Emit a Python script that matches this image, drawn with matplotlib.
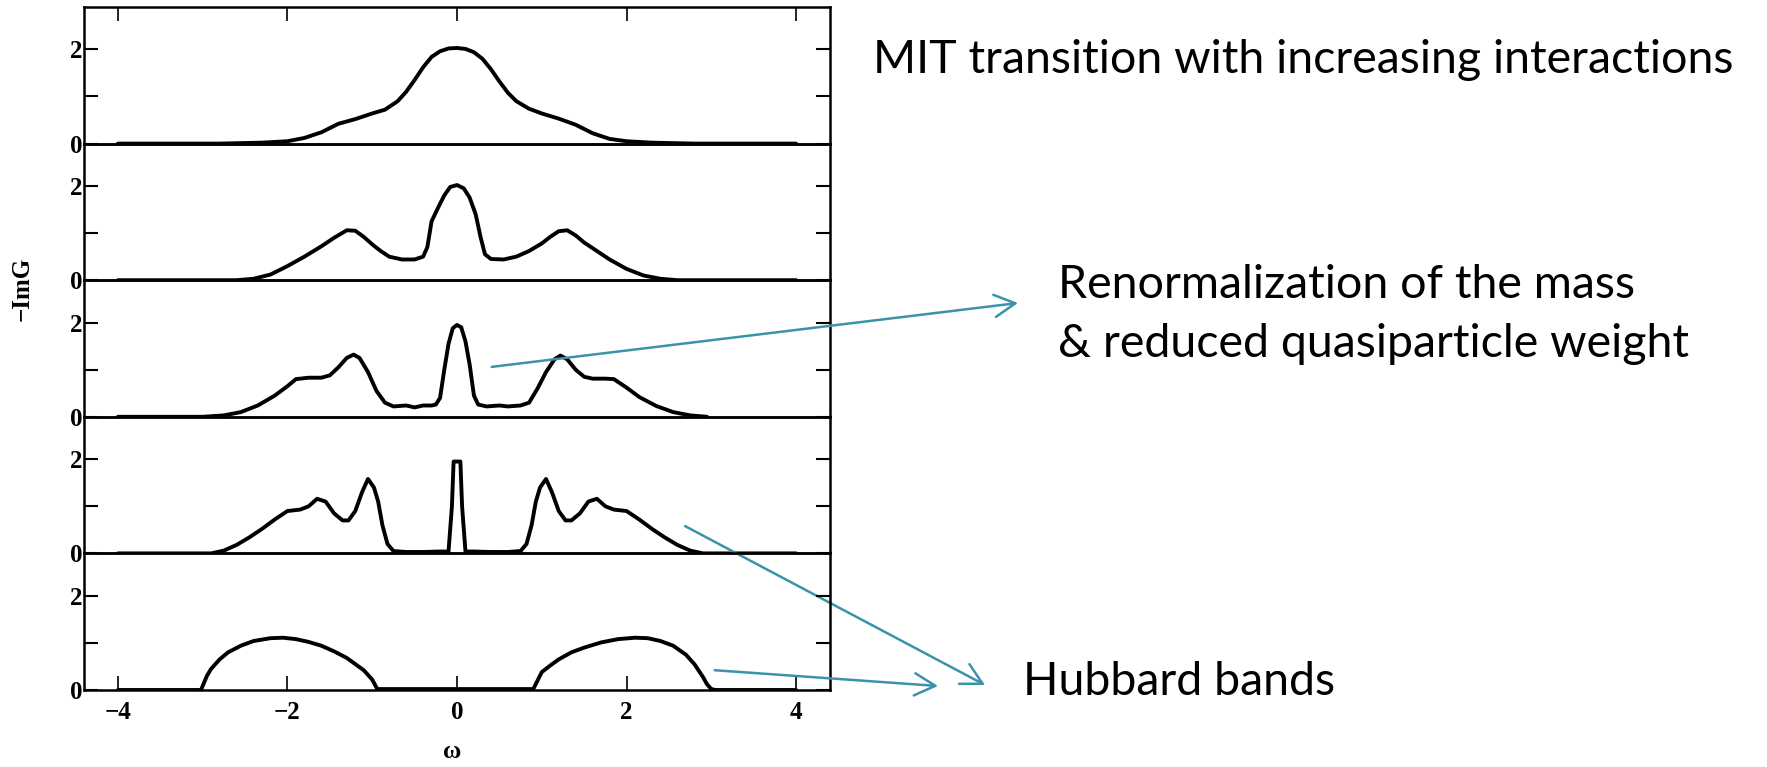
import numpy as np
import matplotlib
matplotlib.use("Agg")
import matplotlib.pyplot as plt

# spectral function -ImG(w) for five interaction strengths
x1 = [-4, -2.8, -2.3, -2.0, -1.8, -1.6, -1.4, -1.2, -1.0, -0.85, -0.7, -0.6, -0.5, -0.4, -0.3, -0.2, -0.1,
      0.0, 0.1, 0.2, 0.3, 0.4, 0.5, 0.6, 0.7, 0.85, 1.0, 1.2, 1.4, 1.6, 1.8, 2.0, 2.3, 2.8, 4]
y1 = [0, 0, 0.02, 0.05, 0.12, 0.24, 0.42, 0.52, 0.64, 0.72, 0.9, 1.1, 1.35, 1.62, 1.84, 1.96, 2.02,
      2.03, 2.01, 1.94, 1.8, 1.58, 1.32, 1.08, 0.9, 0.74, 0.64, 0.53, 0.4, 0.22, 0.1, 0.05, 0.02, 0, 0]

x2 = [-4, -2.6, -2.4, -2.2, -2.0, -1.8, -1.6, -1.45, -1.3, -1.2, -1.1, -1.0, -0.9, -0.8, -0.65, -0.5,
      -0.4, -0.35, -0.3, -0.22, -0.15, -0.08, 0.0, 0.08, 0.15, 0.22, 0.28, 0.33, 0.4, 0.55, 0.7, 0.85,
      1.0, 1.1, 1.2, 1.3, 1.4, 1.5, 1.65, 1.8, 2.0, 2.2, 2.4, 2.6, 4]
y2 = [0, 0, 0.03, 0.12, 0.3, 0.5, 0.72, 0.9, 1.06, 1.05, 0.92, 0.76, 0.62, 0.5, 0.44, 0.44,
      0.5, 0.7, 1.25, 1.55, 1.8, 1.98, 2.02, 1.95, 1.75, 1.4, 0.9, 0.55, 0.45, 0.44, 0.5, 0.62,
      0.78, 0.92, 1.04, 1.06, 0.95, 0.8, 0.62, 0.44, 0.24, 0.1, 0.03, 0, 0]

x3 = [-4, -3.0, -2.75, -2.55, -2.35, -2.15, -2.0, -1.9, -1.75, -1.6, -1.5, -1.4, -1.3, -1.22, -1.15,
      -1.05, -0.95, -0.85, -0.75, -0.6, -0.5, -0.4, -0.3, -0.25, -0.2, -0.15, -0.1, -0.05, 0.0, 0.05,
      0.1, 0.15, 0.2, 0.25, 0.35, 0.5, 0.6, 0.75, 0.85, 0.95, 1.05, 1.15, 1.22, 1.3, 1.4, 1.5, 1.6,
      1.75, 1.85, 2.0, 2.15, 2.35, 2.55, 2.75, 2.95]
y3 = [0, 0, 0.03, 0.1, 0.24, 0.45, 0.65, 0.8, 0.83, 0.83, 0.88, 1.05, 1.25, 1.32, 1.25,
      0.95, 0.55, 0.3, 0.22, 0.24, 0.2, 0.24, 0.24, 0.26, 0.4, 1.0, 1.55, 1.88, 1.95, 1.9,
      1.6, 1.1, 0.45, 0.26, 0.22, 0.24, 0.22, 0.24, 0.3, 0.6, 0.95, 1.22, 1.3, 1.22, 1.0, 0.85, 0.81,
      0.81, 0.8, 0.62, 0.42, 0.23, 0.1, 0.03, 0.0]

x4 = [-4, -2.9, -2.75, -2.6, -2.45, -2.3, -2.15, -2.0, -1.85, -1.75, -1.65, -1.55, -1.45, -1.35, -1.28,
      -1.2, -1.12, -1.05, -0.98, -0.93, -0.88, -0.82, -0.75, -0.6, -0.4, -0.2, -0.1, -0.06, -0.04,
      0.04, 0.06, 0.1, 0.2, 0.4, 0.6, 0.75, 0.82, 0.88, 0.93, 0.98, 1.05, 1.12, 1.2, 1.28, 1.35,
      1.45, 1.55, 1.65, 1.75, 1.85, 2.0, 2.15, 2.3, 2.45, 2.6, 2.75, 2.9, 4]
y4 = [0, 0, 0.06, 0.18, 0.34, 0.52, 0.72, 0.9, 0.93, 1.0, 1.16, 1.1, 0.85, 0.7, 0.7,
      0.9, 1.3, 1.58, 1.4, 1.1, 0.6, 0.2, 0.05, 0.03, 0.03, 0.04, 0.04, 1.0, 1.95,
      1.95, 1.0, 0.04, 0.04, 0.03, 0.03, 0.05, 0.2, 0.6, 1.1, 1.4, 1.58, 1.3, 0.9, 0.7, 0.7,
      0.85, 1.1, 1.16, 1.0, 0.93, 0.9, 0.72, 0.52, 0.34, 0.18, 0.06, 0, 0]

x5 = [-4, -3.02, -2.95, -2.9, -2.8, -2.7, -2.55, -2.4, -2.2, -2.05, -1.9, -1.75, -1.6, -1.45, -1.3,
      -1.2, -1.1, -1.0, -0.94, 0.9, 0.95, 1.0, 1.1, 1.2, 1.35, 1.5, 1.7, 1.9, 2.1, 2.25, 2.4, 2.55,
      2.7, 2.8, 2.9, 2.95, 3.0, 3.05, 4]
y5 = [0, 0, 0.3, 0.45, 0.65, 0.8, 0.94, 1.04, 1.1, 1.11, 1.08, 1.02, 0.94, 0.82, 0.68,
      0.55, 0.42, 0.22, 0.02, 0.02, 0.2, 0.38, 0.52, 0.65, 0.8, 0.9, 1.01, 1.08, 1.11, 1.1, 1.04, 0.94,
      0.75, 0.55, 0.28, 0.12, 0.02, 0, 0]

curves = [(x1, y1), (x2, y2), (x3, y3), (x4, y4), (x5, y5)]
xticks = [-4, -2, 0, 2, 4]

teal = "#3a93a9"
serif = dict(family="Liberation Serif", weight="bold", size=18)
W, H = 1767, 767

fig = plt.figure(figsize=(W / 100, H / 100), dpi=100)

left, right = 84 / W, 830 / W
top, bottom = 1 - 7 / H, 1 - 690 / H
ph = (top - bottom) / 5

axes = []
for i, (xs, ys) in enumerate(curves):
    ax = fig.add_axes([left, top - (i + 1) * ph, right - left, ph])
    ax.patch.set_alpha(0)
    ax.plot(xs, ys, color="black", lw=2.8, solid_joinstyle="round", solid_capstyle="round")
    ax.set_xlim(-4.4, 4.4)
    ax.set_ylim(0, 2.9)
    ax.set_yticks([0, 1, 2])
    ax.set_yticklabels(["0", "", "2"], fontdict=serif)
    ax.tick_params(axis="y", direction="in", left=True, right=True, length=10, width=1.5, pad=1)
    ax.set_xticks(xticks)
    ax.tick_params(axis="x", direction="in", length=10, width=1.2, pad=8,
                   bottom=(i == 4), top=(i == 0), labelbottom=(i == 4))
    if i == 4:
        ax.set_xticklabels(["\u22124", "\u22122", "0", "2", "4"], fontdict=serif)
    for s in ax.spines.values():
        s.set_linewidth(1.8)
    axes.append(ax)

fig.text(22 / W, 1 - 289 / H, "\u2212ImG", rotation=90, ha="center", va="center", **serif)
fig.text(452 / W, 1 - 752 / H, "\u03c9", ha="center", va="center", **serif)

# slide annotations
tfont = dict(family="Lato", size=33.5, color="black")
fig.text(873 / W, 1 - 73 / H, "MIT transition with increasing interactions", va="baseline", **tfont)
fig.text(1058 / W, 1 - 298 / H, "Renormalization of the mass", va="baseline", **tfont)
fig.text(1058 / W, 1 - 357 / H, "& reduced quasiparticle weight", va="baseline", **tfont)
fig.text(1023 / W, 1 - 695 / H, "Hubbard bands", va="baseline", **tfont)

aprops = dict(arrowstyle="->,head_length=0.75,head_width=0.4", color=teal, lw=1.8,
              shrinkA=0, shrinkB=0, mutation_scale=20)
arrows = [(2, (0.41, 1.06), (1018, 303)),
          (3, (2.69, 0.58), (985, 685)),
          (4, (3.04, 0.42), (938, 686))]
for k, tail, head in arrows:
    axes[k].annotate("", xy=(head[0] / W, 1 - head[1] / H), xycoords="figure fraction",
                     xytext=tail, textcoords="data", arrowprops=aprops, annotation_clip=False)

fig.savefig("out.png", dpi=100)
